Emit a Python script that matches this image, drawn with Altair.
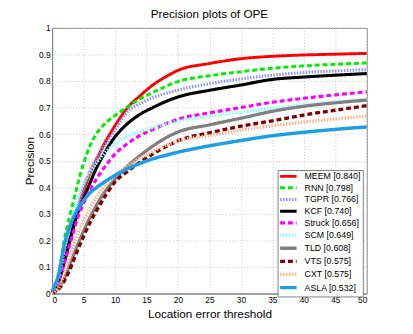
import altair as alt
import pandas as pd

thresholds = [0, 1, 2, 3, 4, 5, 6, 7, 8, 10, 12, 14, 16, 18, 20, 25, 30, 35, 40, 45, 50]

names = ["MEEM", "RNN", "TGPR", "KCF", "Struck", "SCM", "TLD", "VTS", "CXT", "ASLA"]
scores = ["0.840", "0.798", "0.766", "0.740", "0.656", "0.649", "0.608", "0.575", "0.575", "0.532"]

MEEM = [0.005, 0.04, 0.12, 0.21, 0.30, 0.385, 0.45, 0.50, 0.55, 0.632, 0.70, 0.745, 0.785, 0.815, 0.840, 0.866, 0.884, 0.893, 0.898, 0.901, 0.904]
RNN = [0.01, 0.07, 0.21, 0.31, 0.405, 0.49, 0.555, 0.60, 0.63, 0.67, 0.703, 0.733, 0.757, 0.779, 0.798, 0.82, 0.835, 0.848, 0.857, 0.863, 0.868]
TGPR = [0.005, 0.045, 0.14, 0.23, 0.32, 0.40, 0.46, 0.51, 0.545, 0.615, 0.685, 0.715, 0.737, 0.753, 0.766, 0.79, 0.808, 0.822, 0.832, 0.838, 0.843]
KCF = [0.005, 0.04, 0.13, 0.22, 0.30, 0.355, 0.415, 0.47, 0.515, 0.59, 0.64, 0.675, 0.70, 0.722, 0.740, 0.765, 0.785, 0.806, 0.815, 0.822, 0.828]
Struck = [0.005, 0.04, 0.12, 0.20, 0.28, 0.34, 0.39, 0.43, 0.465, 0.525, 0.565, 0.595, 0.617, 0.638, 0.656, 0.68, 0.70, 0.72, 0.735, 0.748, 0.759]
SCM = [0.01, 0.06, 0.17, 0.27, 0.35, 0.41, 0.455, 0.49, 0.52, 0.565, 0.592, 0.61, 0.624, 0.637, 0.649, 0.668, 0.683, 0.696, 0.71, 0.721, 0.731]
TLD = [0.0, 0.02, 0.06, 0.12, 0.18, 0.235, 0.285, 0.33, 0.37, 0.43, 0.48, 0.52, 0.555, 0.585, 0.608, 0.635, 0.66, 0.686, 0.705, 0.718, 0.728]
VTS = [0.0, 0.015, 0.05, 0.10, 0.16, 0.215, 0.265, 0.31, 0.35, 0.42, 0.46, 0.495, 0.525, 0.552, 0.575, 0.605, 0.63, 0.65, 0.672, 0.69, 0.707]
CXT = [0.0, 0.02, 0.08, 0.15, 0.22, 0.275, 0.32, 0.36, 0.395, 0.445, 0.48, 0.51, 0.535, 0.557, 0.575, 0.595, 0.615, 0.632, 0.645, 0.657, 0.668]
ASLA = [0.01, 0.07, 0.19, 0.265, 0.315, 0.35, 0.378, 0.398, 0.415, 0.445, 0.47, 0.49, 0.507, 0.52, 0.532, 0.556, 0.576, 0.594, 0.607, 0.618, 0.627]

series = [MEEM, RNN, TGPR, KCF, Struck, SCM, TLD, VTS, CXT, ASLA]

colors = ["#ff0000", "#00ee00", "#8c8cff", "#000000", "#ff00ff", "#7fffff", "#808080", "#800000", "#ffb58c", "#1a9ee6"]
dashes = [[1, 0], [5, 3], [1.5, 1.5], [1, 0], [5, 3], [1.5, 1.5], [1, 0], [5, 3], [1.5, 1.5], [1, 0]]
widths = [3, 3.5, 2, 3, 3, 2, 3, 3, 1.6, 3]

labels = [f"{n} [{s}]" for n, s in zip(names, scores)]

rows = []
for lab, vals in zip(labels, series):
    for t, p in zip(thresholds, vals):
        rows.append({"t": t, "p": p, "tracker": lab})
df = pd.DataFrame(rows)

FONT = "Liberation Sans"

legend = alt.Legend(
    title=None, orient="none", legendX=230, legendY=145,
    strokeColor="#808080", fillColor="white", padding=1.5,
    labelFontSize=9, labelFont=FONT, labelColor="#000000",
    symbolType="M-2.4,0L2.4,0", symbolSize=49, symbolOffset=4, labelOffset=11,
    rowPadding=-1.6, cornerRadius=0,
)

chart = alt.Chart(df).mark_line(interpolate="monotone").encode(
    x=alt.X("t:Q", scale=alt.Scale(domain=[0, 50], nice=False),
            axis=alt.Axis(values=list(range(0, 51, 5)), title="Location error threshold",
                          titleFontSize=12, titleFontWeight="normal", titlePadding=5,
                          labelFontSize=8.5, labelPadding=2, ticks=False)),
    y=alt.Y("p:Q", scale=alt.Scale(domain=[0, 1], nice=False),
            axis=alt.Axis(values=[i / 10 for i in range(11)], format=".1~f", title="Precision",
                          titleFontSize=12, titleFontWeight="normal", titlePadding=2,
                          labelFontSize=8.5, labelPadding=2, ticks=False)),
    color=alt.Color("tracker:N", scale=alt.Scale(domain=labels, range=colors), legend=legend),
    strokeDash=alt.StrokeDash("tracker:N", scale=alt.Scale(domain=labels, range=dashes), legend=legend),
    strokeWidth=alt.StrokeWidth("tracker:N", scale=alt.Scale(domain=labels, range=widths), legend=legend),
).properties(
    width=321, height=271,
    title=alt.TitleParams("Precision plots of OPE", fontSize=12, fontWeight="normal", font=FONT, offset=3, color="#000000"),
    autosize=alt.AutoSizeParams(type="none"),
    padding={"left": 45, "top": 17, "right": 39, "bottom": 38},
).configure(font=FONT).configure_axis(
    domainColor="#808080", gridColor="#c8c8c8", gridDash=[1, 2], labelColor="#000000",
    titleColor="#000000", labelFont=FONT, titleFont=FONT,
).configure_view(stroke="#808080", strokeWidth=1)

chart.save("out.html", embed_options={"renderer": "svg", "actions": False})
